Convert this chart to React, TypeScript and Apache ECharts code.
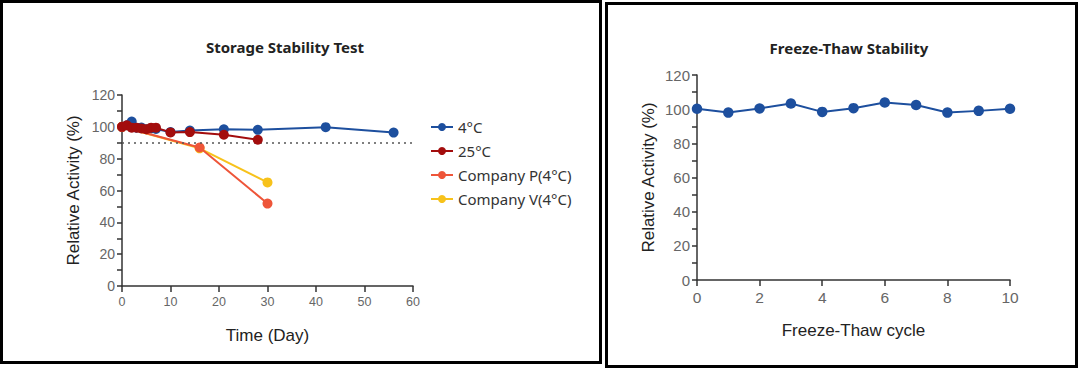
import React, { useEffect, useRef } from "react";
import * as echarts from "echarts";

const daysBlue = [0, 1, 2, 3, 4, 5, 6, 7, 10, 14, 21, 28, 42, 56];
const valsBlue = [100, 101, 103.3, 99.5, 99.6, 98.5, 99, 98.7, 96.7, 97.7, 98.5, 98.1, 99.8, 96.4];
const daysRed = [0, 1, 2, 3, 4, 5, 6, 7, 10, 14, 21, 28];
const valsRed = [100, 101, 99.5, 99.5, 99, 98.5, 99.5, 99.5, 96.5, 96.7, 95, 91.9];
const daysP = [0, 16, 30];
const valsP = [100, 87, 51.8];
const daysV = [0, 16, 30];
const valsV = [100, 86.5, 65.1];
const cycles = [0, 1, 2, 3, 4, 5, 6, 7, 8, 9, 10];
const valsFT = [100.2, 98.0, 100.4, 103.3, 98.4, 100.6, 103.9, 102.4, 98.0, 99.0, 100.2];
const seriesNames = ["4°C", "25°C", "Company P(4°C)", "Company V(4°C)"];
const threshold = 90;

const C_BLUE = "#1d4f9e";
const C_RED = "#a30d0d";
const C_P = "#ee5539";
const C_V = "#f7c21b";

const axisFont = "Liberation Sans";

function pairs(xs: number[], ys: number[]) {
  return xs.map((x, i) => [x, ys[i]]);
}

export default function App() {
  const ref = useRef<HTMLDivElement>(null);
  useEffect(() => {
    if (!ref.current) return;
    const chart = echarts.init(ref.current, null, { renderer: "svg" });
    const yAxisBase = {
      type: "value" as const,
      min: 0,
      max: 120,
      interval: 20,
      axisLine: { show: true, lineStyle: { color: "#333", width: 1.5 } },
      axisTick: { show: true, length: 5, lineStyle: { color: "#333", width: 1.5 } },
      minorTick: { show: true, splitNumber: 2, length: 5, lineStyle: { color: "#333", width: 1.5 } },
      splitLine: { show: false },
      name: "Relative Activity (%)",
      nameLocation: "middle" as const,
      nameTextStyle: { color: "#222", fontSize: 17, fontFamily: axisFont },
    };
    const xAxisBase = {
      type: "value" as const,
      axisLine: { show: true, lineStyle: { color: "#333", width: 1.5 } },
      axisTick: { show: true, length: 6, lineStyle: { color: "#333", width: 1.5 } },
      splitLine: { show: false },
      nameLocation: "middle" as const,
      nameTextStyle: { color: "#222", fontSize: 17, fontFamily: axisFont },
    };
    const mk = (name: string, color: string, data: number[][], z: number) => ({
      name,
      type: "line" as const,
      xAxisIndex: 0,
      yAxisIndex: 0,
      data,
      z,
      symbol: "circle",
      symbolSize: 10,
      itemStyle: { color },
      lineStyle: { color, width: 2 },
    });
    const titleStyle = { fontFamily: "Noto Sans", fontWeight: "bold" as const, fontSize: 15, color: "#222" };
    chart.setOption({
      animation: false,
      backgroundColor: "#fff",
      title: [
        { text: "Storage Stability Test", left: 280, top: 34, textAlign: "center", textStyle: titleStyle },
        { text: "Freeze-Thaw Stability", left: 844, top: 35, textAlign: "center", textStyle: titleStyle },
      ],
      legend: {
        data: seriesNames,
        orient: "vertical",
        left: 430,
        top: 119.5,
        padding: 0,
        itemWidth: 22,
        itemHeight: 10,
        itemGap: 9,
        textStyle: { fontFamily: "Noto Sans", fontSize: 15, color: "#333" },
      },
      grid: [
        { left: 122, top: 95, width: 291, height: 191 },
        { left: 697, top: 75, width: 313, height: 205 },
      ],
      xAxis: [
        {
          ...xAxisBase,
          gridIndex: 0,
          min: 0,
          max: 60,
          interval: 10,
          name: "Time (Day)",
          nameGap: 41,
          axisLabel: { color: "#666", fontSize: 12.5, fontFamily: axisFont, margin: 9 },
        },
        {
          ...xAxisBase,
          gridIndex: 1,
          min: 0,
          max: 10,
          interval: 2,
          name: "Freeze-Thaw cycle",
          nameGap: 42,
          axisLabel: { color: "#666", fontSize: 15.5, fontFamily: axisFont, margin: 9 },
        },
      ],
      yAxis: [
        {
          ...yAxisBase,
          gridIndex: 0,
          nameGap: 40,
          axisLabel: { color: "#666", fontSize: 14, fontFamily: axisFont, margin: 7 },
        },
        {
          ...yAxisBase,
          gridIndex: 1,
          nameGap: 40,
          axisLabel: { color: "#666", fontSize: 15, fontFamily: axisFont, margin: 7 },
        },
      ],
      series: [
        {
          ...mk(seriesNames[0], C_BLUE, pairs(daysBlue, valsBlue), 2),
          markLine: {
            silent: true,
            symbol: "none",
            label: { show: false },
            lineStyle: { color: "#555", type: [2, 4], width: 1.5 },
            data: [{ yAxis: threshold }],
          },
        },
        mk(seriesNames[1], C_RED, pairs(daysRed, valsRed), 5),
        mk(seriesNames[2], C_P, pairs(daysP, valsP), 4),
        mk(seriesNames[3], C_V, pairs(daysV, valsV), 3),
        {
          name: "Freeze-Thaw",
          type: "line",
          xAxisIndex: 1,
          yAxisIndex: 1,
          data: pairs(cycles, valsFT),
          symbol: "circle",
          symbolSize: 10.5,
          itemStyle: { color: C_BLUE },
          lineStyle: { color: C_BLUE, width: 2 },
        },
      ],
      graphic: [
        {
          type: "rect",
          shape: { x: 1.5, y: 1.5, width: 599, height: 361 },
          style: { fill: "none", stroke: "#000", lineWidth: 3 },
          silent: true,
        },
        {
          type: "rect",
          shape: { x: 606.5, y: 3.5, width: 470, height: 363 },
          style: { fill: "none", stroke: "#000", lineWidth: 3 },
          silent: true,
        },
      ],
    });
    return () => chart.dispose();
  }, []);
  return (
    <div
      ref={ref}
      style={{ position: "fixed", left: 0, top: 0, width: 1080, height: 370, background: "#fff" }}
    />
  );
}
